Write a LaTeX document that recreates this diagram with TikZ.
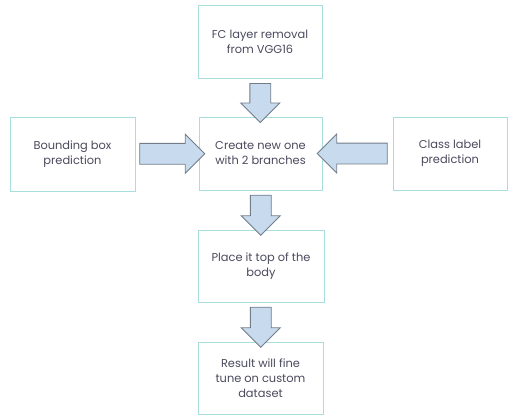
\documentclass[tikz,border=0pt]{standalone}
\usepackage{fontspec}
\setmainfont{Poppins}
\usepackage{xcolor}
\usetikzlibrary{shapes.arrows, calc, positioning}

\definecolor{boxline}{HTML}{A8DEDC}
\definecolor{arrowfill}{HTML}{C8DBEE}
\definecolor{arrowline}{HTML}{707C88}
\definecolor{txt}{HTML}{4A4A5E}

\tikzset{
    stepbox/.style={draw=boxline, line width=1pt, fill=white, align=center,
        text=txt, font=\fontsize{11.4}{15}\selectfont, inner sep=0pt},
    blockarrow/.style={single arrow, draw=arrowline, fill=arrowfill, line width=0.9pt,
        inner sep=10pt, single arrow head extend=9pt,
        single arrow head indent=0pt}
}

\begin{document}
\begin{tikzpicture}[x=1pt, y=-1pt]
                    \useasboundingbox (0, 0) rectangle (509, 415);

                    \node[stepbox, minimum width=124pt, minimum height=73pt] (fcremove) at (260, 42) {FC layer removal\\from VGG16};
                    \node[stepbox, minimum width=123pt, minimum height=73pt] (newhead) at (260.5, 153.5) {Create new one\\with 2 branches};
                    \node[stepbox, minimum width=125pt, minimum height=74pt] (bboxpred) at (72.5, 154) {Bounding box\\prediction};
                    \node[stepbox, minimum width=114pt, minimum height=73pt] (classpred) at (450, 153.5) {Class label\\prediction};
                    \node[stepbox, minimum width=126pt, minimum height=72pt] (placetop) at (261, 266) {Place it top of the\\body};
                    \node[stepbox, minimum width=125pt, minimum height=72pt] (finetune) at (260.5, 378) {Result will fine\\tune on custom\\dataset};

                    % fat arrows between the boxes
                    \node[blockarrow, shape border rotate=270, minimum height=39pt] (down1) at ($(fcremove.south)!0.5!(newhead.north)$) {};
                    \node[blockarrow, shape border rotate=270, minimum height=40pt] (down2) at ($(newhead.south)!0.5!(placetop.north)$) {};
                    \node[blockarrow, shape border rotate=270, minimum height=40pt] (down3) at ($(placetop.south)!0.5!(finetune.north)$) {};
                    \node[blockarrow, minimum height=65pt] (fromleft) at ($(bboxpred.east)!0.5!(newhead.west)$) {};
                    \node[blockarrow, shape border rotate=180, minimum height=70pt] (fromright) at ($(classpred.west)!0.5!(newhead.east)$) {};
                \end{tikzpicture}
\end{document}
